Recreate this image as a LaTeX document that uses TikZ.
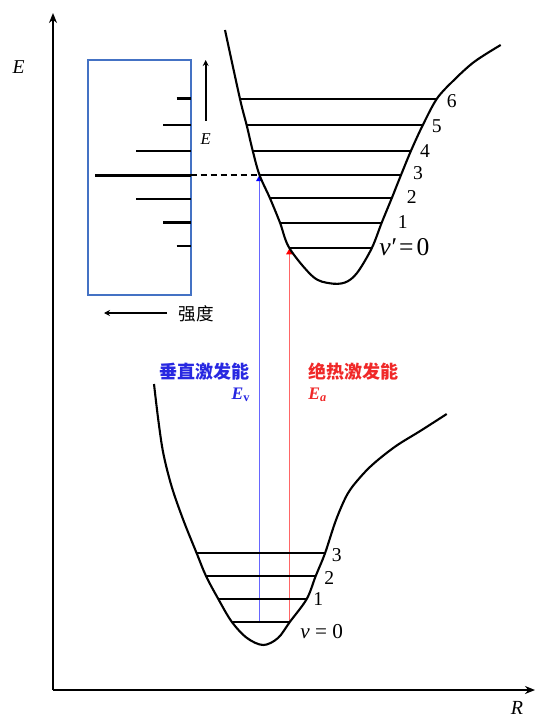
\documentclass[tikz,border=0pt]{standalone}
\usepackage{fontspec}
\setmainfont{Liberation Serif}
\newfontfamily\cjk{Noto Sans CJK SC}
\usepackage{xcolor}
\usepackage{tikz}
\usetikzlibrary{arrows, arrows.meta, positioning, calc}
\definecolor{boxblue}{RGB}{68,114,196}
\definecolor{txtblue}{RGB}{40,40,225}
\definecolor{txtred}{RGB}{240,40,40}
\tikzstyle{axis} = [line width=1pt, -{Stealth[length=5pt,width=4pt]}]
\tikzstyle{arrow} = [line width=0.6pt, -{Stealth[length=3pt,width=3pt]}]
\tikzstyle{trans} = [line width=0.75pt]
\tikzstyle{potcurve} = [line width=1.05pt, smooth, tension=0.55]
\tikzstyle{vlevel} = [line width=0.9pt]
\tikzstyle{specline} = [line width=1.2pt]
\tikzstyle{specbox} = [rectangle, draw=boxblue, line width=0.8pt, inner sep=0pt]
\tikzstyle{num} = [inner sep=0pt, font=\fontsize{9.8}{10}\selectfont]

\begin{document}
\begin{tikzpicture}[x=0.5pt, y=-0.5pt]
    \useasboundingbox (0,0) rectangle (536,717);

    % Ejes
    \coordinate (o) at (53,690);
    \coordinate (ytop) at (53,13);
    \coordinate (xend) at (535,690);
    \draw [axis] (o) -- (ytop);
    \draw [axis] (o) -- (xend);
    \node (elab) [inner sep=0pt, font=\fontsize{9.8}{10}\selectfont\itshape] at (18.5,67.5) {E};
    \node (rlab) [inner sep=0pt, font=\fontsize{10}{11}\selectfont\itshape] at (517,708) {R};

    % Espectro
    \node (spec) [specbox, minimum width=51.35pt, minimum height=117.5pt] at (139.35,177.5) {};
    \foreach \y/\x in {98.7/176.7, 125/163.3, 151/136, 199/136, 222.5/163.3, 246/176.7}
        \draw [specline] (\x,\y) -- (190.7,\y);
    \coordinate (peakl) at (95,175);
    \coordinate (peakr) at (190.7,175);
    \draw [specline, line width=1.5pt] (peakl) -- (peakr);
    \coordinate (ea) at (205.7,121);
    \coordinate (eb) at (205.7,60);
    \draw [arrow, line width=0.8pt] (ea) -- (eb);
    \node (elab2) [inner sep=0pt, font=\fontsize{8.3}{9}\selectfont\itshape] at (205.7,139) {E};
    \coordinate (ia) at (167,313);
    \coordinate (ib) at (104,313);
    \draw [arrow, line width=0.8pt] (ia) -- (ib);
    \node (ilab) [inner sep=0pt, font=\cjk\fontsize{8.8}{9}\selectfont] at (196,314) {强度};

    % Niveles superiores
    \foreach \n/\y/\xl/\xr in {0/248.3/289.5/371.7, 1/222.7/280/381.7, 2/198.3/270/391.7,
                               3/175/259.5/401, 4/150.7/252.7/411, 5/125.3/246.7/422.7, 6/99/240/436.7}
    {
        \coordinate (u\n l) at (\xl,\y);
        \coordinate (u\n r) at (\xr,\y);
    }
    % Niveles inferiores
    \foreach \n/\y/\xl/\xr in {0/621.7/231.7/290, 1/599/218.3/306.7, 2/576/206/315.7, 3/553.3/196.7/325}
    {
        \coordinate (l\n l) at (\xl,\y);
        \coordinate (l\n r) at (\xr,\y);
    }

    % Transiciones
    \coordinate (vstart) at (u3l |- l0l);
    \coordinate (astart) at (u0l |- l0r);
    \draw [trans, draw=blue!60, -{Triangle[length=3pt,width=3.2pt,color=blue]}] (vstart) -- (u3l);
    \draw [trans, draw=red!60, -{Triangle[length=3pt,width=3.2pt,color=red]}] (astart) -- (u0l);
    \draw [specline, line width=0.9pt, dash pattern=on 3pt off 2pt] (peakr) -- (u3l);

    \foreach \n in {0,...,6}
        \draw [vlevel] (u\n l) -- (u\n r);
    \foreach \n in {0,...,3}
        \draw [vlevel] (l\n l) -- (l\n r);

    % Curvas
    \draw [potcurve] plot coordinates {(225,30) (u6l) (u5l) (u4l) (u3l) (u2l) (u1l) (u0l)
        (313,276.7) (330,283.3) (345,282.5) (357,273) (u0r) (u1r) (u2r) (u3r) (u4r) (u5r) (u6r)
        (452,82) (474,62) (500.7,45)};
    \draw [potcurve] plot coordinates {(154,384) (158.3,420) (163.3,453.3) (171.7,486.7) (183.3,520)
        (l3l) (l2l) (l1l) (l0l) (247,638) (263.3,645) (278,638) (l0r) (l1r) (l2r) (l3r)
        (336,520) (347.5,494) (360,477.5) (374,463.3) (396,446) (421,430.5) (446.7,414)};

    % Etiquetas
    \node (n6) [num] at (451.7,101) {6};
    \node (n5) [num] at (436.7,125.7) {5};
    \node (n4) [num] at (425,150.7) {4};
    \node (n3) [num] at (418,173) {3};
    \node (n2) [num] at (411.7,196.7) {2};
    \node (n1) [num] at (402.7,221.7) {1};
    \node (n0) [inner sep=0pt, anchor=west, font=\fontsize{12.8}{13}\selectfont] at (379,247) {\textit{v}\kern0.4pt′\kern1pt=\kern1.5pt0};
    \node (m3) [num] at (336.7,555) {3};
    \node (m2) [num] at (329.3,578) {2};
    \node (m1) [num] at (318.3,599.3) {1};
    \node (m0) [inner sep=0pt, anchor=west, font=\fontsize{10.6}{11}\selectfont] at (300,632) {\textit{v} = 0};

    \node (vert) [inner sep=0pt, anchor=east, text=txtblue, font=\cjk\bfseries\fontsize{9}{10}\selectfont] at (250,372) {垂直激发能};
    \node (ev) [inner sep=0pt, anchor=east, text=txtblue, font=\fontsize{8.8}{9}\selectfont] at (251,395) {\textbf{\textit{E}}\textsubscript{\textbf{v}}};
    \node (adia) [inner sep=0pt, anchor=west, text=txtred, font=\cjk\bfseries\fontsize{9}{10}\selectfont] at (308,372) {绝热激发能};
    \node (ea2) [inner sep=0pt, anchor=west, text=txtred, font=\fontsize{8.8}{9}\selectfont] at (308,395) {\textbf{\textit{E}}\textsubscript{\textbf{\textit{a}}}};
\end{tikzpicture}
\end{document}
